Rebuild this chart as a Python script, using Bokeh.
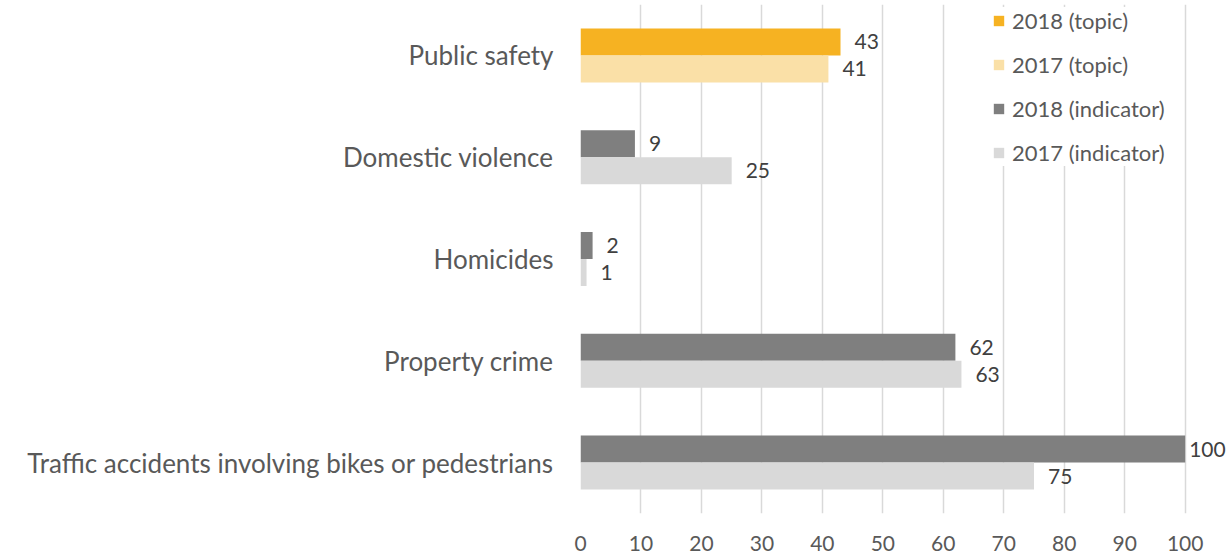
from bokeh.plotting import figure
from bokeh.models import ColumnDataSource, Range1d, FixedTicker, Legend, LegendItem, LabelSet
from bokeh.embed import file_html
from bokeh.resources import INLINE
from bokeh.core.properties import value

categories = ["Public safety", "Domestic violence", "Homicides", "Property crime",
              "Traffic accidents involving bikes or pedestrians"]
groups = ["topic", "indicator", "indicator", "indicator", "indicator"]
values_2018 = [43, 9, 2, 62, 100]
values_2017 = [41, 25, 1, 63, 75]
x_ticks = [0, 10, 20, 30, 40, 50, 60, 70, 80, 90, 100]

FONT = "Lato"
colors = {("topic", "2018"): "#F6B222", ("topic", "2017"): "#FAE0A7",
          ("indicator", "2018"): "#7F7F7F", ("indicator", "2017"): "#D9D9D9"}

n = len(categories)
pos = [n - 1 - i for i in range(n)]  # first category at top
BAR_H = 0.265
OFF = BAR_H / 2

# x range extends a little past 100 so the "100" label has room inside the frame
p = figure(width=1232, height=554, output_backend="svg", toolbar_location=None,
           x_range=Range1d(0, 107), y_range=Range1d(-0.5, n - 0.5),
           min_border_left=580, min_border_right=5, min_border_top=4, min_border_bottom=41)
p.outline_line_color = None
p.background_fill_color = "white"
p.border_fill_color = "white"

renderers = {}
for g in ["topic", "indicator"]:
    for yr, vals, sign in [("2018", values_2018, 1), ("2017", values_2017, -1)]:
        idx = [i for i in range(n) if groups[i] == g]
        src = ColumnDataSource(dict(
            y=[pos[i] + sign * OFF for i in idx],
            v=[vals[i] for i in idx],
            t=[str(vals[i]) for i in idx],
            xo=[4 if vals[i] >= 100 else 14 for i in idx],
        ))
        r = p.hbar(y="y", right="v", left=0, height=BAR_H, source=src,
                   fill_color=colors[(g, yr)], line_color=None)
        renderers[(g, yr)] = r
        p.add_layout(LabelSet(x="v", y="y", text="t", source=src, x_offset="xo",
                              text_baseline="middle", text_align="left",
                              text_font=value(FONT), text_font_size="21px",
                              text_color="#404040"))

# axes
p.xaxis.ticker = FixedTicker(ticks=x_ticks)
p.xaxis.axis_line_color = None
p.xaxis.major_tick_line_color = None
p.xaxis.minor_tick_line_color = None
p.xaxis.major_label_text_font = FONT
p.xaxis.major_label_text_font_size = "21px"
p.xaxis.major_label_text_color = "#595959"
p.xaxis.major_label_standoff = 16

p.yaxis.ticker = FixedTicker(ticks=pos)
p.yaxis.major_label_overrides = {pos[i]: categories[i] for i in range(n)}
p.yaxis.axis_line_color = None
p.yaxis.major_tick_line_color = None
p.yaxis.minor_tick_line_color = None
p.yaxis.major_label_text_font = FONT
p.yaxis.major_label_text_font_size = "26px"
p.yaxis.major_label_text_color = "#595959"
p.yaxis.major_label_standoff = 21

p.xgrid.grid_line_color = "#D9D9D9"
p.xgrid.grid_line_width = 1.5
p.ygrid.grid_line_color = None

legend = Legend(items=[
    LegendItem(label="2018 (topic)", renderers=[renderers[("topic", "2018")]]),
    LegendItem(label="2017 (topic)", renderers=[renderers[("topic", "2017")]]),
    LegendItem(label="2018 (indicator)", renderers=[renderers[("indicator", "2018")]]),
    LegendItem(label="2017 (indicator)", renderers=[renderers[("indicator", "2017")]]),
], location=(412, 347))
legend.background_fill_color = "white"
legend.background_fill_alpha = 1
legend.border_line_color = None
legend.padding = 10
legend.margin = 0
legend.spacing = 17
legend.glyph_width = 13
legend.glyph_height = 13
legend.label_height = 20
legend.label_width = 172
legend.label_standoff = 7
legend.label_text_font = FONT
legend.label_text_font_size = "22px"
legend.label_text_color = "#595959"
p.add_layout(legend, "center")

open("out.html", "w").write(file_html(p, INLINE))
